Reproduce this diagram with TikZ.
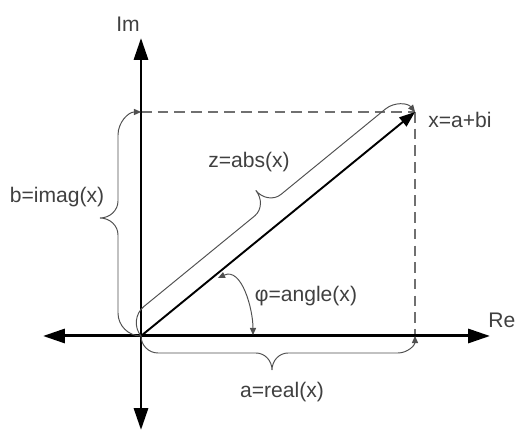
\documentclass[tikz,border=0pt]{standalone}
\usepackage{fontspec}
\setmainfont{Liberation Sans}
\usetikzlibrary{arrows.meta}
\definecolor{txt}{HTML}{404040}
\definecolor{brc}{HTML}{505050}
\definecolor{dsh}{HTML}{707070}
\newcommand\mybrace[5]{% L h c m w
  \draw[bracestyle] (0,0) .. controls (0,{0.55*#2}) and ({0.45*#2},#2) .. (#2,#2)
    -- ({#4-#5},#2) .. controls ({#4-0.45*#5},#2) and (#4,{#3-0.55*(#3-#2)}) .. (#4,#3)
    .. controls (#4,{#3-0.55*(#3-#2)}) and ({#4+0.45*#5},#2) .. ({#4+#5},#2)
    -- ({#1-#2},#2) .. controls ({#1-0.45*#2},#2) and (#1,{0.55*#2}) .. (#1,0);}
\tikzset{
  axisline/.style={line width=1.7pt,{Triangle[length=12.5pt,width=8pt]}-{Triangle[length=12.5pt,width=8pt]}},
  vecline/.style={line width=1.1pt,-{Triangle[length=9pt,width=6.5pt]}},
  bracestyle/.style={draw=brc,line width=0.55pt,-{Triangle[length=4pt,width=3.5pt]}},
  dashline/.style={draw=dsh,line width=0.85pt,dash pattern=on 6pt off 3.5pt},
  anglestyle/.style={draw=brc,line width=0.55pt,{Triangle[length=4pt,width=3.5pt]}-{Triangle[length=4pt,width=3.5pt]}},
  lab/.style={text=txt,font=\fontsize{12}{14}\selectfont,inner sep=0pt}
}
\begin{document}
\begin{tikzpicture}[x=0.02cm,y=0.02cm]
\useasboundingbox (0,0) rectangle (518,432);
\coordinate (O) at (141,96);
\coordinate (P) at (415,320);
\coordinate (Pa) at (415,96);
\coordinate (Pb) at (141,320);
\coordinate (XL) at (43,96);
\coordinate (XR) at (490,96);
\coordinate (YB) at (141,2);
\coordinate (YT) at (141,394);
\coordinate (A1) at (218,154);
\coordinate (A2) at (253,97);
% dashed projections
\draw[dashline] (Pb) -- (P);
\draw[dashline] (P) -- (Pa);
% axes
\draw[axisline] (XL) -- (XR);
\draw[axisline] (YB) -- (YT);
% vector
\draw[vecline] (O) -- (P);
% braces
\begin{scope}[shift={(O)},yscale=-1]
  \mybrace{274}{17}{34}{131}{16}
\end{scope}
\begin{scope}[shift={(O)},rotate=90]
  \mybrace{224}{23}{41}{118}{17}
\end{scope}
\begin{scope}[shift={(O)},rotate=39.27]
  \mybrace{354}{21}{40}{181}{17}
\end{scope}
% angle
\draw[anglestyle] (A1) to[out=25,in=90] (A2);
% labels
\node[lab] (im) at (128,408) {Im};
\node[lab,anchor=base west] (re) at (488,104) {Re};
\node[lab,anchor=base west] (xl) at (428,304) {x=a+bi};
\node[lab,anchor=base] (zl) at (249,264) {z=abs(x)};
\node[lab,anchor=base] (bl) at (57,229) {b=imag(x)};
\node[lab,anchor=base] (phl) at (306,130) {φ=angle(x)};
\node[lab,anchor=base] (al) at (282,34) {a=real(x)};
\end{tikzpicture}
\end{document}
